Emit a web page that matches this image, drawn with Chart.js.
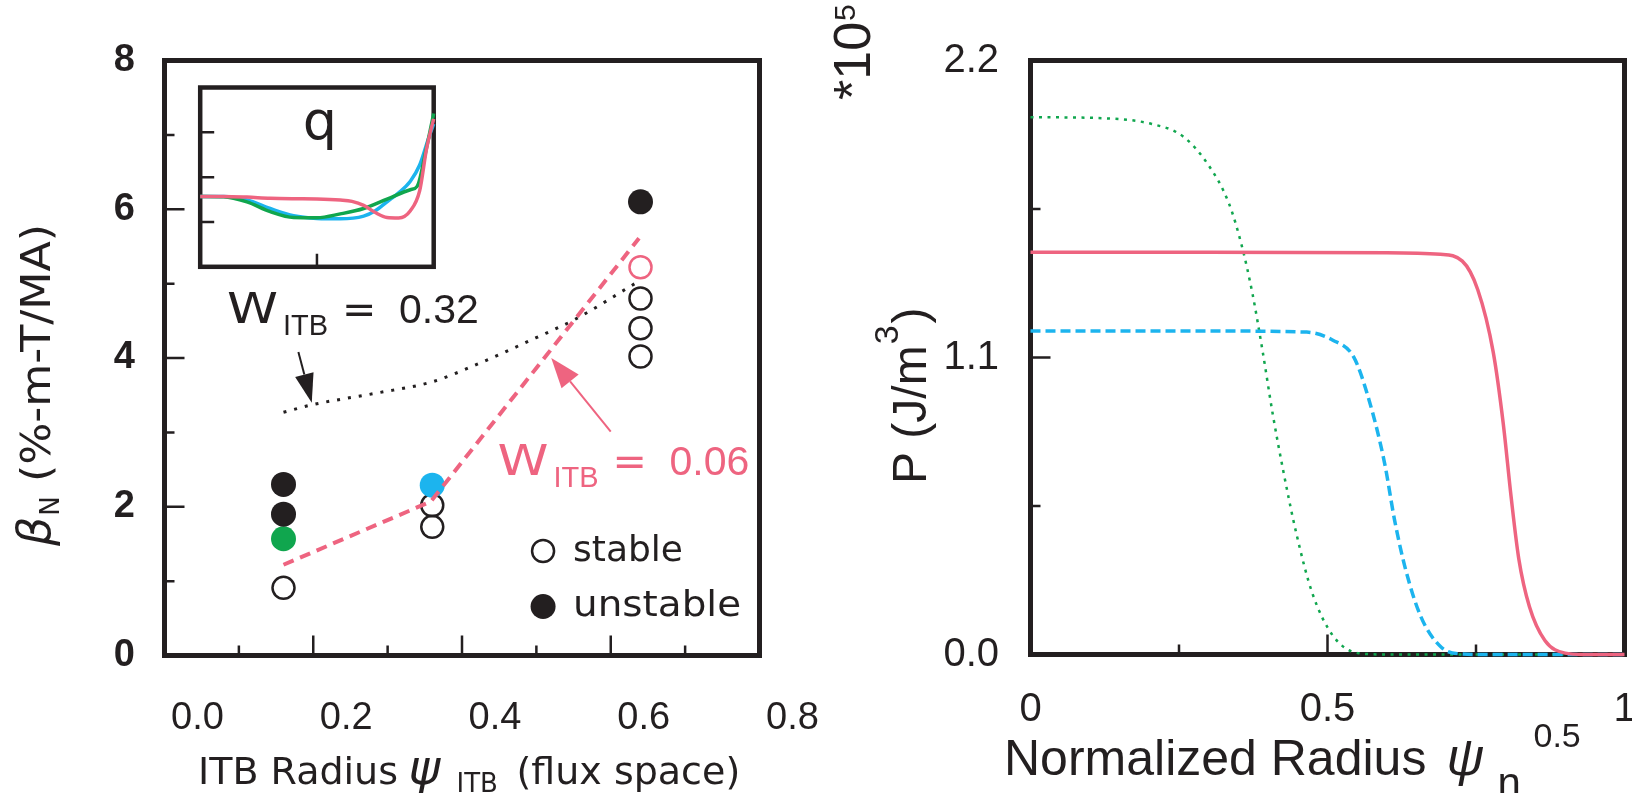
<!DOCTYPE html>
<html>
<head>
<meta charset="utf-8">
<script src="https://cdn.jsdelivr.net/npm/chart.js@4.4.1/dist/chart.umd.min.js"></script>
<style>
  html, body { margin: 0; padding: 0; background: #fff; }
  body { width: 1632px; height: 793px; position: relative; overflow: hidden; }
  canvas { position: absolute; }
  #betaChart { left: 0; top: 0; }
  #qChart { left: 190px; top: 78px; }
  #pressureChart { left: 820px; top: 0; }
</style>
</head>
<body>
<canvas id="betaChart" width="820" height="793"></canvas>
<canvas id="qChart" width="260" height="204"></canvas>
<canvas id="pressureChart" width="812" height="793"></canvas>
<script>
const INK = "#231f20";
const PINK = "#ee6480";
const BLUE = "#1cb4ee";
const GREEN = "#10a64e";

// beta_N limit vs ITB radius
const radiusTicks = [0, 0.2, 0.4, 0.6, 0.8];
const radiusTickLabels = ["0.0", "0.2", "0.4", "0.6", "0.8"];
const betaTicks = [0, 2, 4, 6, 8];
const betaTickLabels = ["0", "2", "4", "6", "8"];

const stableX = [0.16, 0.36, 0.36, 0.64, 0.64, 0.64];
const stableY = [0.91, 2.02, 1.73, 4.8, 4.4, 4.02];
const unstableX = [0.16, 0.16, 0.64];
const unstableY = [2.3, 1.9, 6.1];
const greenCaseX = [0.16];
const greenCaseY = [1.57];
const blueCaseX = [0.36];
const blueCaseY = [2.29];
const pinkCaseX = [0.64];
const pinkCaseY = [5.22];

// limit curves for the two barrier widths
const wide032X = [0.16, 0.198, 0.286, 0.36, 0.419, 0.499, 0.552, 0.634];
const wide032Y = [3.27, 3.37, 3.53, 3.68, 3.91, 4.27, 4.52, 5.01];
const narrow006X = [0.16, 0.358, 0.638];
const narrow006Y = [1.22, 2.07, 5.61];

// q profiles (inset)
const qPinkX = [0, 0.1, 0.2, 0.3, 0.4, 0.5, 0.6, 0.65, 0.7, 0.75, 0.8, 0.85, 0.9, 0.94, 0.97, 1.0];
const qPinkY = [1.57, 1.57, 1.555, 1.53, 1.52, 1.515, 1.49, 1.46, 1.37, 1.21, 1.1, 1.09, 1.25, 1.7, 2.65, 3.3];
const qGreenX = [0, 0.1, 0.2, 0.3, 0.4, 0.5, 0.6, 0.7, 0.8, 0.9, 0.93, 0.965, 1.0];
const qGreenY = [1.57, 1.565, 1.45, 1.23, 1.1, 1.095, 1.18, 1.3, 1.51, 1.72, 1.8, 2.55, 3.42];
const qBlueX = [0, 0.1, 0.2, 0.3, 0.4, 0.5, 0.6, 0.7, 0.75, 0.8, 0.85, 0.9, 0.94, 0.98, 1.0];
const qBlueY = [1.57, 1.57, 1.49, 1.3, 1.14, 1.08, 1.07, 1.13, 1.25, 1.45, 1.65, 1.91, 2.27, 2.9, 3.19];

// pressure profiles (units of 1e5 J/m^3)
const rhoTicks = [0, 0.5, 1];
const rhoTickLabels = ["0", "0.5", "1"];
const presTicks = [0, 1.1, 2.2];
const presTickLabels = ["0.0", "1.1", "2.2"];

const presPinkX = [0, 0.3, 0.6, 0.69, 0.727, 0.753, 0.779, 0.796, 0.809, 0.822, 0.84, 0.866, 0.9, 0.93, 1.0];
const presPinkY = [1.49, 1.49, 1.488, 1.482, 1.457, 1.351, 1.12, 0.853, 0.586, 0.355, 0.177, 0.052, 0.005, 0, 0];
const presBlueX = [0, 0.3, 0.465, 0.509, 0.544, 0.57, 0.596, 0.613, 0.631, 0.657, 0.692, 0.727, 0.76, 1.0];
const presBlueY = [1.198, 1.198, 1.194, 1.164, 1.102, 0.942, 0.71, 0.497, 0.319, 0.141, 0.026, 0.002, 0, 0];
const presGreenX = [0, 0.125, 0.204, 0.256, 0.2995, 0.334, 0.356, 0.374, 0.391, 0.408, 0.426, 0.448, 0.474, 0.509, 0.552, 0.6, 1.0];
const presGreenY = [1.99, 1.986, 1.965, 1.92, 1.813, 1.671, 1.511, 1.333, 1.12, 0.888, 0.675, 0.444, 0.23, 0.07, 0.005, 0, 0];

const pts = (xs, ys) => xs.map((x, i) => ({ x, y: ys[i] }));
const sans = (size, style) => `${style || ""} ${size}px "DejaVu Sans"`;
const helv = (size, style) => `${style || ""} ${size}px "Liberation Sans"`;

// draw a row of text pieces; each piece may shift (dy), jump (at), pad (gap) or widen (sx)
function drawRuns(ctx, x0, y0, runs) {
  let x = x0;
  ctx.textAlign = "left";
  ctx.textBaseline = "alphabetic";
  runs.forEach((r) => {
    if (r.at !== undefined) x = x0 + r.at;
    x += r.gap || 0;
    const sx = r.sx || 1;
    ctx.font = r.font;
    ctx.save();
    ctx.translate(x, y0 + (r.dy || 0));
    ctx.scale(sx, 1);
    ctx.fillText(r.text, 0, 0);
    ctx.restore();
    x += ctx.measureText(r.text).width * sx;
  });
}

function drawRotated(ctx, x, y, runs) {
  ctx.save();
  ctx.translate(x, y);
  ctx.rotate(-Math.PI / 2);
  drawRuns(ctx, 0, 0, runs);
  ctx.restore();
}

function drawArrow(ctx, x1, y1, x2, y2, color, headLen, headHalf, width) {
  const ang = Math.atan2(y2 - y1, x2 - x1);
  const bx = x2 - headLen * Math.cos(ang);
  const by = y2 - headLen * Math.sin(ang);
  ctx.save();
  ctx.strokeStyle = color;
  ctx.fillStyle = color;
  ctx.lineWidth = width;
  ctx.beginPath();
  ctx.moveTo(x1, y1);
  ctx.lineTo(bx, by);
  ctx.stroke();
  ctx.beginPath();
  ctx.moveTo(x2, y2);
  ctx.lineTo(bx + headHalf * Math.sin(ang), by - headHalf * Math.cos(ang));
  ctx.lineTo(bx - headHalf * Math.sin(ang), by + headHalf * Math.cos(ang));
  ctx.closePath();
  ctx.fill();
  ctx.restore();
}

// box frame + inward tick marks, drawn under the datasets
function frameTicks(cfg) {
  return {
    id: "frameTicks",
    beforeDatasetsDraw(chart) {
      const { ctx, chartArea: a, scales } = chart;
      ctx.save();
      ctx.strokeStyle = INK;
      ctx.lineWidth = cfg.tickWidth;
      ctx.beginPath();
      cfg.xTicks.forEach(([v, len]) => {
        const x = scales.x.getPixelForValue(v);
        ctx.moveTo(x, a.bottom);
        ctx.lineTo(x, a.bottom - len);
      });
      cfg.yTicks.forEach(([v, len]) => {
        const y = scales.y.getPixelForValue(v);
        ctx.moveTo(a.left, y);
        ctx.lineTo(a.left + len, y);
      });
      ctx.stroke();
      ctx.lineWidth = cfg.frameWidth;
      ctx.strokeRect(a.left, a.top, a.right - a.left, a.bottom - a.top);
      ctx.restore();
    },
  };
}

function fixedAxis(size, horizontal) {
  return (s) => {
    if (horizontal) s.height = size;
    else s.width = size;
    s.paddingLeft = s.paddingRight = s.paddingTop = s.paddingBottom = 0;
  };
}

const lineSet = (data, color, width, dash, extra) =>
  Object.assign(
    {
      type: "line",
      data,
      borderColor: color,
      borderWidth: width,
      borderDash: dash,
      pointRadius: 0,
      pointHitRadius: 0,
      fill: false,
      clip: false,
      cubicInterpolationMode: "monotone",
    },
    extra || {}
  );

const dotSet = (data, fill, stroke, radius) => ({
  data,
  showLine: false,
  pointRadius: radius,
  pointBackgroundColor: fill,
  pointBorderColor: stroke,
  pointBorderWidth: stroke === fill ? 0 : 2.5,
  clip: false,
});

const widthLabel = (val) => [
  { text: "W", font: sans(43), sx: 1.2 },
  { text: "ITB", font: helv(29), at: 56, dy: 12.5 },
  { text: "=", font: sans(41), at: 115 },
  { text: val, font: helv(41), at: 172 },
];

const betaText = {
  id: "betaText",
  afterDatasetsDraw(chart) {
    const { ctx, chartArea: a, scales } = chart;
    const px = (xv, yv) => [scales.x.getPixelForValue(xv), scales.y.getPixelForValue(yv)];
    ctx.save();
    ctx.fillStyle = INK;

    // W_ITB = 0.32 with arrow to the dotted curve
    let [lx, ly] = px(0.084, 4.476);
    drawRuns(ctx, lx, ly, widthLabel("0.32"));
    let [tx, ty] = px(0.18, 4.08);
    let [hx, hy] = px(0.198, 3.4);
    drawArrow(ctx, tx, ty, hx, hy, INK, 29, 9.5, 2);

    // W_ITB = 0.06 with arrow to the dashed curve
    ctx.fillStyle = PINK;
    [lx, ly] = px(0.4477, 2.427);
    drawRuns(ctx, lx, ly, widthLabel("0.06"));
    [tx, ty] = px(0.6, 3.01);
    [hx, hy] = px(0.52, 4.0);
    drawArrow(ctx, tx, ty, hx, hy, PINK, 30, 11, 2);

    // legend
    ctx.fillStyle = INK;
    ctx.strokeStyle = INK;
    const [sx, sy] = px(0.509, 1.405);
    const [ux, uy] = px(0.509, 0.659);
    ctx.lineWidth = 2.5;
    ctx.beginPath();
    ctx.arc(sx, sy, 11, 0, Math.PI * 2);
    ctx.stroke();
    ctx.beginPath();
    ctx.arc(ux, uy, 12.5, 0, Math.PI * 2);
    ctx.fill();
    drawRuns(ctx, sx + 30, sy + 9.5, [{ text: "stable", font: sans(36) }]);
    drawRuns(ctx, ux + 30, uy + 9.5, [{ text: "unstable", font: sans(36), sx: 1.08 }]);

    // axis titles
    drawRotated(ctx, a.left - 114.5, a.bottom - 109.5, [
      { text: "β", font: sans(46, "italic") },
      { text: "N", font: sans(26), dy: 9, gap: 1 },
      { text: " (%-m-T/MA)", font: sans(41), sx: 1.08 },
    ]);
    drawRuns(ctx, a.left, a.bottom + 128, [
      { text: "ITB Radius", font: sans(38), at: 33.5 },
      { text: "ψ", font: sans(48, "italic"), at: 244 },
      { text: "ITB", font: sans(26), at: 292, dy: 8 },
      { text: "(flux space)", font: sans(38), at: 352 },
    ]);
    ctx.restore();
  },
};

new Chart(document.getElementById("betaChart"), {
  type: "scatter",
  data: {
    datasets: [
      lineSet(pts(narrow006X, narrow006Y), PINK, 4, [11, 7], { cubicInterpolationMode: "default", tension: 0 }),
      lineSet(pts(wide032X, wide032Y), INK, 3, [3, 8]),
      dotSet(pts(unstableX, unstableY), INK, INK, 12.5),
      dotSet(pts(greenCaseX, greenCaseY), GREEN, GREEN, 12.5),
      dotSet(pts(blueCaseX, blueCaseY), BLUE, BLUE, 12.5),
      dotSet(pts(pinkCaseX, pinkCaseY), "rgba(0,0,0,0)", PINK, 11),
      dotSet(pts(stableX, stableY), "rgba(0,0,0,0)", INK, 11),
    ],
  },
  options: {
    responsive: false,
    animation: false,
    events: [],
    layout: { padding: { top: 60.5, right: 60.5, left: 0, bottom: 0 }, autoPadding: false },
    scales: {
      x: {
        type: "linear",
        min: 0,
        max: 0.8,
        afterBuildTicks: (s) => { s.ticks = radiusTicks.map((v) => ({ value: v })); },
        afterFit: fixedAxis(137.5, true),
        grid: { display: false, drawTicks: false },
        border: { display: false },
        ticks: {
          callback: (v, i) => radiusTickLabels[i],
          font: { family: "Liberation Sans", size: 38 },
          color: INK,
          padding: 40,
          labelOffset: 33,
          maxRotation: 0,
          autoSkip: false,
        },
      },
      y: {
        type: "linear",
        min: 0,
        max: 8,
        afterBuildTicks: (s) => { s.ticks = betaTicks.map((v) => ({ value: v })); },
        afterFit: fixedAxis(164.5, false),
        grid: { display: false, drawTicks: false },
        border: { display: false },
        ticks: {
          callback: (v, i) => betaTickLabels[i],
          font: { family: "Liberation Sans", size: 38, weight: "bold" },
          color: INK,
          padding: 29.5,
          autoSkip: false,
        },
      },
    },
    plugins: { legend: { display: false }, tooltip: { enabled: false } },
  },
  plugins: [
    frameTicks({
      frameWidth: 5,
      tickWidth: 2.5,
      xTicks: [[0.1, 10], [0.2, 20], [0.3, 10], [0.4, 20], [0.5, 10], [0.6, 20], [0.7, 10]],
      yTicks: [[1, 10], [2, 20], [3, 10], [4, 20], [5, 10], [6, 20], [7, 10]],
    }),
    betaText,
  ],
});

// inset: q profiles
const qLabel = {
  id: "qLabel",
  afterDatasetsDraw(chart) {
    const { ctx, chartArea: a } = chart;
    ctx.save();
    ctx.fillStyle = INK;
    ctx.font = sans(54);
    ctx.textAlign = "center";
    ctx.textBaseline = "alphabetic";
    ctx.fillText("q", (a.left + a.right) / 2 + 3, a.top + 51);
    ctx.restore();
  },
};

new Chart(document.getElementById("qChart"), {
  type: "scatter",
  data: {
    datasets: [
      lineSet(pts(qPinkX, qPinkY), PINK, 3.5, []),
      lineSet(pts(qGreenX, qGreenY), GREEN, 3.5, []),
      lineSet(pts(qBlueX, qBlueY), BLUE, 3.5, []),
    ],
  },
  options: {
    responsive: false,
    animation: false,
    events: [],
    layout: { padding: { left: 10.2, top: 9.5, right: 16.3, bottom: 15.2 }, autoPadding: false },
    scales: {
      x: { type: "linear", display: false, min: 0, max: 1 },
      y: { type: "linear", display: false, min: 0, max: 4 },
    },
    plugins: { legend: { display: false }, tooltip: { enabled: false } },
  },
  plugins: [
    frameTicks({ frameWidth: 4.5, tickWidth: 2.5, xTicks: [[0.5, 13]], yTicks: [[1, 14], [2, 14], [3, 14]] }),
    qLabel,
  ],
});

// pressure profiles
const presText = {
  id: "presText",
  afterDatasetsDraw(chart) {
    const { ctx, chartArea: a } = chart;
    ctx.save();
    ctx.fillStyle = INK;
    drawRuns(ctx, a.left, a.bottom + 120.5, [
      { text: "Normalized Radius", font: helv(50), at: -26.5 },
      { text: "ψ", font: helv(52, "italic"), at: 416 },
      { text: "n", font: helv(42), at: 467, dy: 22 },
      { text: "0.5", font: helv(34), at: 503, dy: -28 },
    ]);
    drawRotated(ctx, a.left - 104.5, a.top + 423.5, [
      { text: "P (J/m", font: helv(48) },
      { text: "3", font: helv(34), dy: -28, gap: 1 },
      { text: ")", font: helv(48), gap: 2 },
    ]);
    drawRotated(ctx, a.left - 160.5, a.top + 39.5, [
      { text: "*10", font: helv(52) },
      { text: "5", font: helv(30), dy: -15, gap: 1 },
    ]);
    ctx.restore();
  },
};

new Chart(document.getElementById("pressureChart"), {
  type: "scatter",
  data: {
    datasets: [
      lineSet(pts(presPinkX, presPinkY), PINK, 3.5, []),
      lineSet(pts(presBlueX, presBlueY), BLUE, 3.5, [10, 5]),
      lineSet(pts(presGreenX, presGreenY), GREEN, 2.5, [3, 5.5]),
    ],
  },
  options: {
    responsive: false,
    animation: false,
    events: [],
    layout: { padding: { top: 60.5, right: 7.5, left: 0, bottom: 0 }, autoPadding: false },
    scales: {
      x: {
        type: "linear",
        min: 0,
        max: 1,
        afterBuildTicks: (s) => { s.ticks = rhoTicks.map((v) => ({ value: v })); },
        afterFit: fixedAxis(138.5, true),
        grid: { display: false, drawTicks: false },
        border: { display: false },
        ticks: {
          callback: (v, i) => rhoTickLabels[i],
          font: { family: "Liberation Sans", size: 40 },
          color: INK,
          padding: 31,
          maxRotation: 0,
          autoSkip: false,
        },
      },
      y: {
        type: "linear",
        min: 0,
        max: 2.2,
        afterBuildTicks: (s) => { s.ticks = presTicks.map((v) => ({ value: v })); },
        afterFit: fixedAxis(210.5, false),
        grid: { display: false, drawTicks: false },
        border: { display: false },
        ticks: {
          callback: (v, i) => presTickLabels[i],
          font: { family: "Liberation Sans", size: 40 },
          color: INK,
          padding: 31.5,
          autoSkip: false,
        },
      },
    },
    plugins: { legend: { display: false }, tooltip: { enabled: false } },
  },
  plugins: [
    frameTicks({
      frameWidth: 5,
      tickWidth: 2.5,
      xTicks: [[0.25, 10], [0.5, 20], [0.75, 10]],
      yTicks: [[0.55, 10], [1.1, 20], [1.65, 10]],
    }),
    presText,
  ],
});
</script>
</body>
</html>
